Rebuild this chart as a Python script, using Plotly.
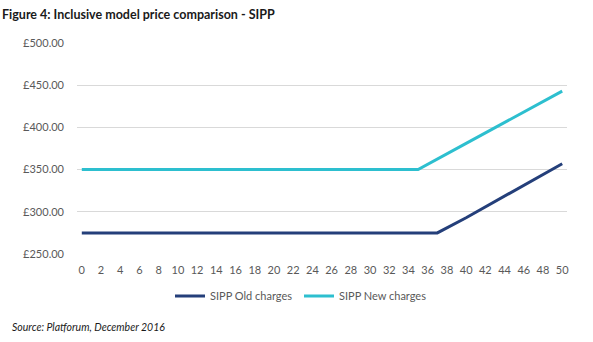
import plotly.graph_objects as go

# Charges by portfolio size (category axis 0..50), readings at kinks and ends
old_x = [0, 37, 40, 45, 50]
old_charges = [275, 275, 293, 325, 357]
new_x = [0, 35, 40, 45, 50]
new_charges = [350, 350, 381, 412, 443]

x_ticks = list(range(0, 51, 2))
y_ticks = [250, 300, 350, 400, 450, 500]

OLD_COLOR = "#243f7a"
NEW_COLOR = "#2dbfcf"
FONT = "Lato"
GREY = "#595959"

fig = go.Figure()
fig.add_trace(go.Scatter(x=old_x, y=old_charges, mode="lines", name="SIPP Old charges",
                         line=dict(color=OLD_COLOR, width=3)))
fig.add_trace(go.Scatter(x=new_x, y=new_charges, mode="lines", name="SIPP New charges",
                         line=dict(color=NEW_COLOR, width=3)))

fig.update_layout(
    width=593, height=342,
    margin=dict(l=77, r=26, t=43, b=88),
    paper_bgcolor="white", plot_bgcolor="white",
    font=dict(family=FONT, size=11, color=GREY),
    showlegend=True,
    legend=dict(orientation="h", x=(170 - 77) / 490, xanchor="left", xref="paper",
                y=-0.13, yanchor="top", font=dict(size=11, color=GREY),
                itemwidth=30, traceorder="normal",
                entrywidth=84, entrywidthmode="pixels"),
    xaxis=dict(range=[-0.5, 50.5], tickmode="array", tickvals=x_ticks,
               ticktext=[str(v) for v in x_ticks], showgrid=False, zeroline=False,
               showline=False, ticks="", ticklabelstandoff=8,
               tickfont=dict(size=11, color=GREY)),
    yaxis=dict(range=[250, 500], tickmode="array", tickvals=y_ticks,
               ticktext=["£%.2f" % v for v in y_ticks], showgrid=True,
               gridcolor="#d9d9d9", gridwidth=1, zeroline=False, showline=False,
               ticks="", ticklabelstandoff=12, tickfont=dict(size=11, color=GREY)),
    annotations=[
        dict(text="<b>Figure 4: Inclusive model price comparison - SIPP</b>",
             xref="paper", yref="paper", x=-77/490, y=1 + 28/211, xanchor="left",
             yanchor="middle", showarrow=False, font=dict(size=12.5, color="#1a1a1a")),
        dict(text="<i>Source: Platforum, December 2016</i>",
             xref="paper", yref="paper", x=-67/490, y=-73/211, xanchor="left",
             yanchor="middle", showarrow=False, font=dict(size=10.5, color="#1a1a1a")),
    ],
)

fig.write_html("out.html")
